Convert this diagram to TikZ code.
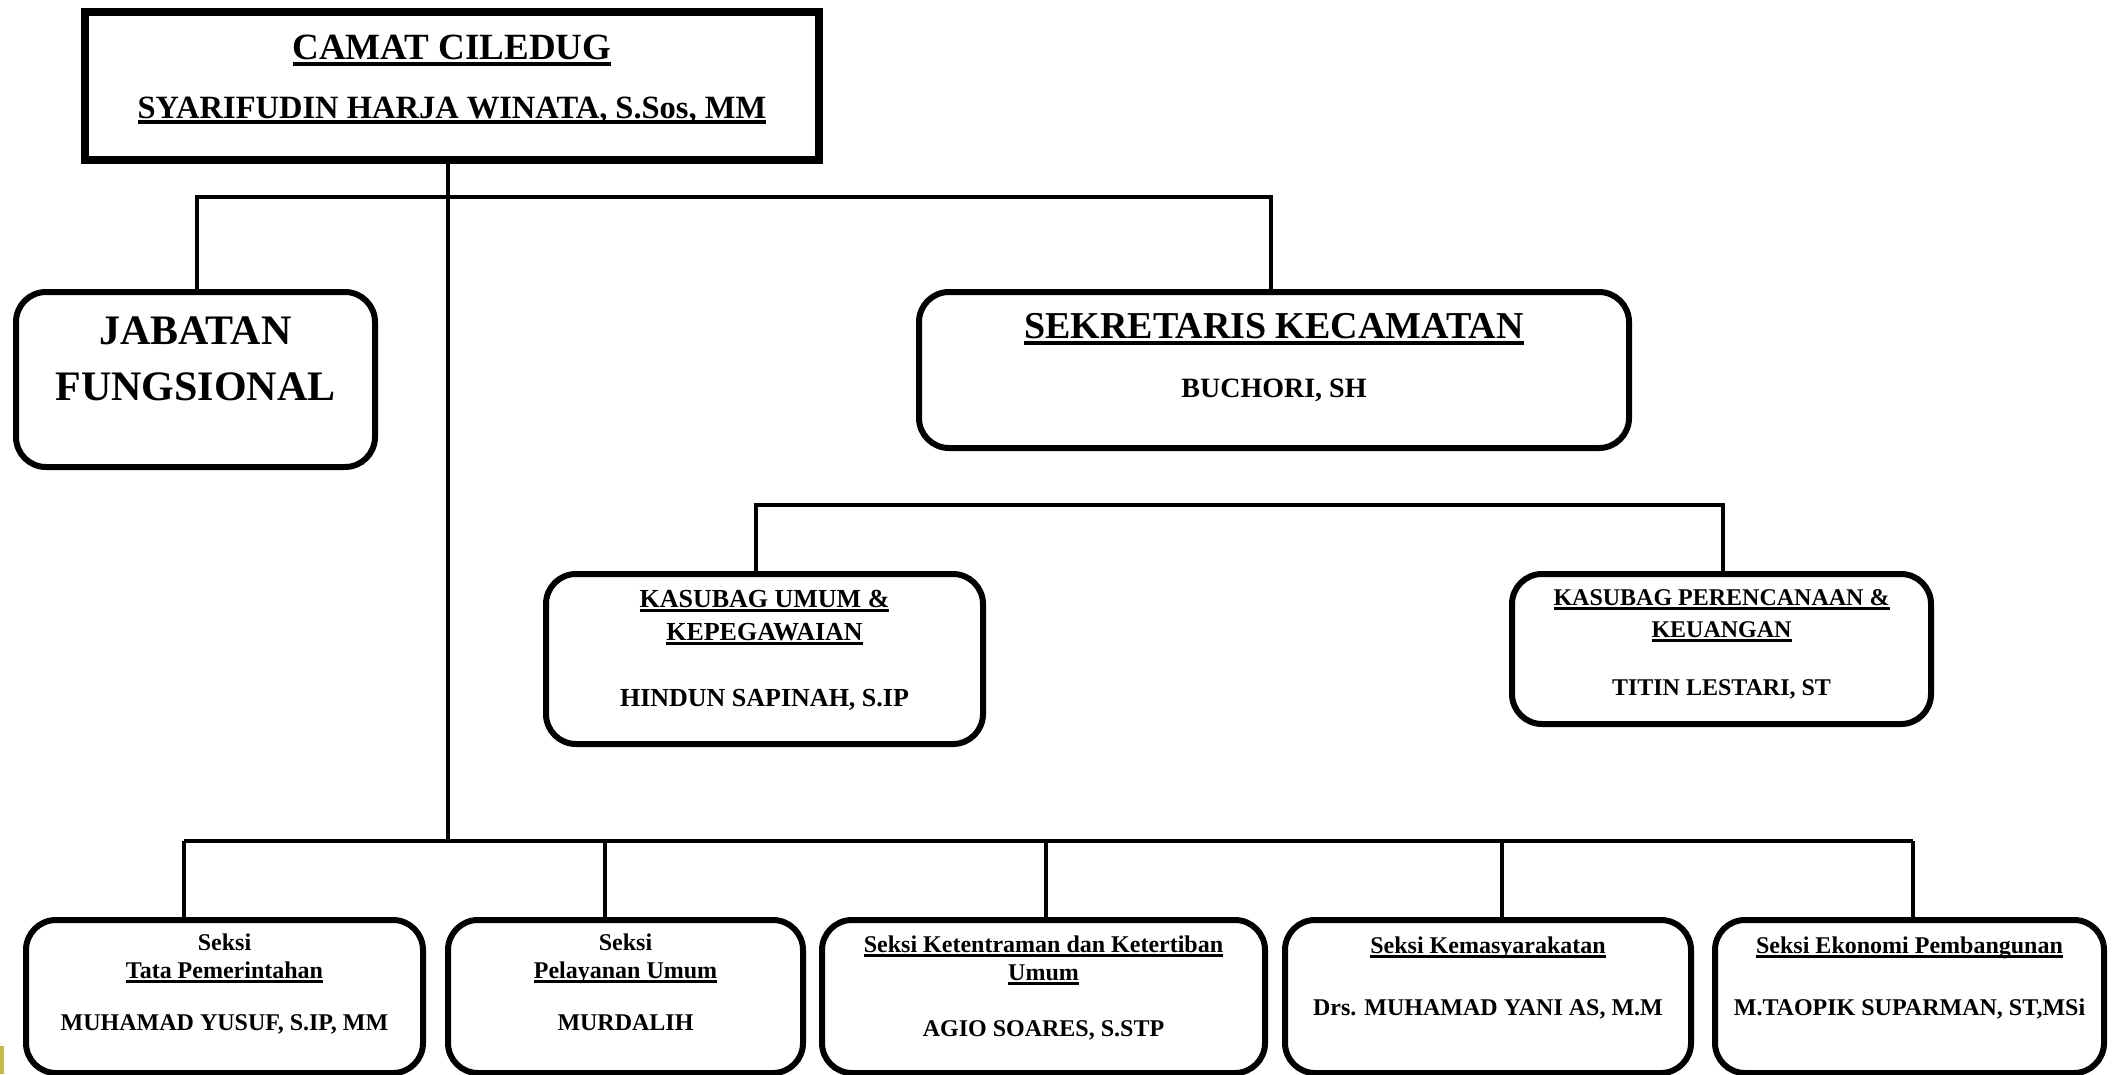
\documentclass[tikz,border=0pt]{standalone}
\usepackage{fontspec}
\setmainfont{Liberation Serif}
\newsavebox\ulbox
\newcommand\myul[1]{\leavevmode\sbox\ulbox{#1}\rlap{\vrule width\wd\ulbox height -0.07em depth 0.19em}\usebox\ulbox}
\newcommand\fs[1]{\fontsize{#1}{#1}\selectfont}
\definecolor{sliver}{RGB}{196,186,70}
\tikzset{
  conn/.style={line width=4pt},
  rbox/.style={draw, line width=6pt, rounded corners=30pt, inner sep=0pt},
  sqbox/.style={draw, line width=8pt, inner sep=0pt},
  txt/.style={anchor=base, inner sep=0pt, font=\bfseries},
}
\begin{document}
\begin{tikzpicture}[x=1pt,y=-1pt]
\useasboundingbox (0,0) rectangle (2127,1074);
\clip (0,0) rectangle (2127,1074);
\fill[sliver] (0,1046) rectangle (4,1074);
% boxes
\node[sqbox, minimum width=734pt, minimum height=148pt] (camat) at (452,86) {};
\node[rbox, minimum width=359pt, minimum height=175pt] (jab) at (195.5,379.5) {};
\node[rbox, minimum width=710pt, minimum height=156pt] (sek) at (1274,370) {};
\node[rbox, minimum width=437pt, minimum height=170pt] (kum) at (764.5,659) {};
\node[rbox, minimum width=419pt, minimum height=150pt] (kren) at (1721.5,649) {};
\node[rbox, minimum width=397pt, minimum height=153pt] (s1) at (224.5,996.5) {};
\node[rbox, minimum width=355pt, minimum height=153pt] (s2) at (625.5,996.5) {};
\node[rbox, minimum width=443pt, minimum height=153pt] (s3) at (1043.5,996.5) {};
\node[rbox, minimum width=406pt, minimum height=153pt] (s4) at (1488,996.5) {};
\node[rbox, minimum width=389pt, minimum height=153pt] (s5) at (1909.5,996.5) {};
% connectors
\coordinate (trunk) at (448,841);
\draw[conn] (camat.south -| trunk) -- (trunk);
\coordinate (hA) at (197,197);
\coordinate (hB) at (1271,197);
\draw[conn] (jab.north -| hA) -- (hA) -- (hB) -- (sek.north -| hB);
\coordinate (kA) at (756,505);
\coordinate (kB) at (1723,505);
\draw[conn] (kum.north -| kA) -- (kA) -- (kB) -- (kren.north -| kB);
\coordinate (b1) at (184,841);
\coordinate (b2) at (605,841);
\coordinate (b3) at (1046,841);
\coordinate (b4) at (1502,841);
\coordinate (b5) at (1913,841);
\draw[conn] (b1) -- (b5);
\draw[conn] (b1) -- (s1.north -| b1);
\draw[conn] (b2) -- (s2.north -| b2);
\draw[conn] (b3) -- (s3.north -| b3);
\draw[conn] (b4) -- (s4.north -| b4);
\draw[conn] (b5) -- (s5.north -| b5);
% texts
\node[txt, font=\bfseries\fs{37}] (tc1) at (452,59) {\myul{CAMAT CILEDUG}};
\node[txt, font=\bfseries\fs{32.5}] (tc2) at (452,118) {\myul{SYARIFUDIN HARJA WINATA, S.Sos, MM}};
\node[txt, font=\bfseries\fs{42}] (tj1) at (195.5,344) {JABATAN};
\node[txt, font=\bfseries\fs{42}] (tj2) at (195.5,400) {FUNGSIONAL};
\node[txt, font=\bfseries\fs{38}] (ts1) at (1274,338) {\myul{SEKRETARIS KECAMATAN}};
\node[txt, font=\bfseries\fs{28}] (ts2) at (1274,397) {BUCHORI, SH};
\node[txt, font=\bfseries\fs{26}] (tk1) at (764.5,607) {\myul{KASUBAG UMUM \&}};
\node[txt, font=\bfseries\fs{26}] (tk2) at (764.5,640) {\myul{KEPEGAWAIAN}};
\node[txt, font=\bfseries\fs{26}] (tk3) at (764.5,706) {HINDUN SAPINAH, S.IP};
\node[txt, font=\bfseries\fs{24}] (tr1) at (1721.5,605) {\myul{KASUBAG PERENCANAAN \&}};
\node[txt, font=\bfseries\fs{24}] (tr2) at (1721.5,637) {\myul{KEUANGAN}};
\node[txt, font=\bfseries\fs{24}] (tr3) at (1721.5,695) {TITIN LESTARI, ST};
\node[txt, font=\bfseries\fs{24}] (u1a) at (224.5,950) {Seksi};
\node[txt, font=\bfseries\fs{24}] (u1b) at (224.5,978) {\myul{Tata Pemerintahan}};
\node[txt, font=\bfseries\fs{24}] (u1c) at (224.5,1030) {MUHAMAD YUSUF, S.IP, MM};
\node[txt, font=\bfseries\fs{24}] (u2a) at (625.5,950) {Seksi};
\node[txt, font=\bfseries\fs{24}] (u2b) at (625.5,978) {\myul{Pelayanan Umum}};
\node[txt, font=\bfseries\fs{24}] (u2c) at (625.5,1030) {MURDALIH};
\node[txt, font=\bfseries\fs{24}] (u3a) at (1043.5,952) {\myul{Seksi Ketentraman dan Ketertiban}};
\node[txt, font=\bfseries\fs{24}] (u3b) at (1043.5,980) {\myul{Umum}};
\node[txt, font=\bfseries\fs{24}] (u3c) at (1043.5,1036) {AGIO SOARES, S.STP};
\node[txt, font=\bfseries\fs{24}] (u4a) at (1488,953) {\myul{Seksi Kemasyarakatan}};
\node[txt, font=\bfseries\fs{24}] (u4b) at (1488,1015) {Drs. MUHAMAD YANI AS, M.M};
\node[txt, font=\bfseries\fs{24}] (u5a) at (1909.5,953) {\myul{Seksi Ekonomi Pembangunan}};
\node[txt, font=\bfseries\fs{24}] (u5b) at (1909.5,1015) {M.TAOPIK SUPARMAN, ST,MSi};
\end{tikzpicture}
\end{document}
